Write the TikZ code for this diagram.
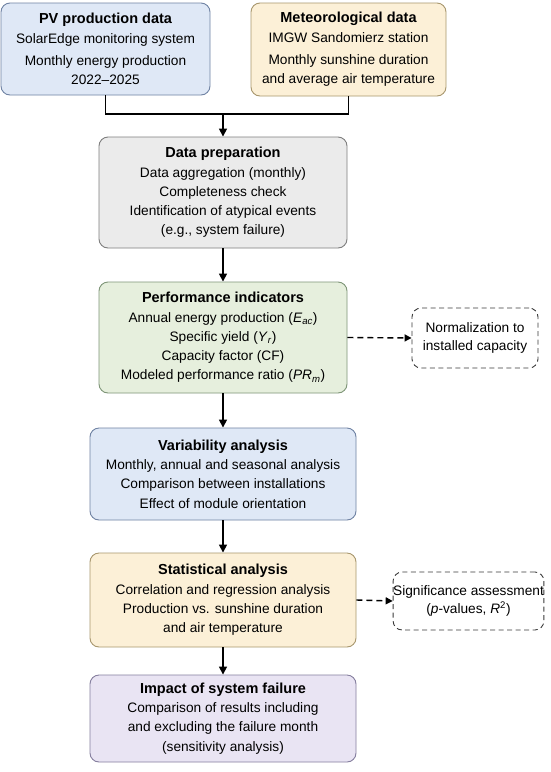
\documentclass[tikz,border=0pt]{standalone}
\usepackage{fontspec}
\setmainfont{Liberation Sans}
\usetikzlibrary{arrows.meta}
\definecolor{bluefill}{HTML}{DFE8F6}
\definecolor{blueline}{HTML}{6F82A3}
\definecolor{yelfill}{HTML}{FCF0D7}
\definecolor{yelline}{HTML}{A8976E}
\definecolor{grayfill}{HTML}{EBEBEB}
\definecolor{grayline}{HTML}{7E7E7E}
\definecolor{grnfill}{HTML}{E6EFDD}
\definecolor{grnline}{HTML}{7E9577}
\definecolor{purfill}{HTML}{E9E4F3}
\definecolor{purline}{HTML}{857E9E}
\definecolor{noteline}{HTML}{3A3A3A}
\newcommand{\boxtitle}[1]{{\fontsize{14.5}{18}\selectfont\bfseries #1}}
\begin{document}
\begin{tikzpicture}[x=1pt,y=-1pt,
  stagebox/.style={draw, line width=0.9pt, rounded corners=9pt, inner sep=0pt, align=center,
    font=\fontsize{13.7}{19.3}\selectfont},
  notebox/.style={draw=noteline, dash pattern=on 5pt off 3.5pt, line width=0.9pt, rounded corners=9pt, inner sep=0pt, align=center,
    font=\fontsize{13.7}{17.5}\selectfont},
  arr/.style={line width=1.6pt, -{Triangle[length=8pt,width=8pt]}},
  darr/.style={line width=1.4pt, dash pattern=on 6pt off 4pt, -{Triangle[length=7pt,width=7pt]}},
  link/.style={line width=1.6pt}]
\useasboundingbox (0,0) rectangle (550,772);
\fill[white] (0,0) rectangle (550,772);

\node[stagebox, fill=bluefill, draw=blueline, minimum width=209pt, minimum height=92pt] (pv) at (105.5,49)
  {\boxtitle{PV production data}\\ SolarEdge monitoring system\\[3pt] Monthly energy production\\ 2022–2025};
\node[stagebox, fill=yelfill, draw=yelline, minimum width=195pt, minimum height=93pt] (met) at (348.5,49.5)
  {\boxtitle{Meteorological data}\\ IMGW Sandomierz station\\[3pt] Monthly sunshine duration\\ and average air temperature};

\node[stagebox, fill=grayfill, draw=grayline, minimum width=248pt, minimum height=111pt] (prep) at (223,192.5)
  {\boxtitle{Data preparation}\\ Data aggregation (monthly)\\ Completeness check\\ Identification of atypical events\\ (e.g., system failure)};

\node[stagebox, fill=grnfill, draw=grnline, minimum width=248pt, minimum height=111pt] (perf) at (223,337.5)
  {\boxtitle{Performance indicators}\\ Annual energy production (\textit{E}\textsubscript{\textit{ac}})\\ Specific yield (\textit{Y}\textsubscript{\textit{r}})\\ Capacity factor (CF)\\ Modeled performance ratio (\textit{PR}\textsubscript{\textit{m}})};

\node[notebox, minimum width=126pt, minimum height=60pt] (norm) at (475,338)
  {Normalization to\\ installed capacity};

\node[stagebox, fill=bluefill, draw=blueline, minimum width=266pt, minimum height=92pt] (var) at (223,474)
  {\boxtitle{Variability analysis}\\ Monthly, annual and seasonal analysis\\ Comparison between installations\\ Effect of module orientation};

\node[stagebox, fill=yelfill, draw=yelline, minimum width=266pt, minimum height=94pt] (stat) at (223,600)
  {\boxtitle{Statistical analysis}\\ Correlation and regression analysis\\ Production vs. sunshine duration\\ and air temperature};

\node[notebox, minimum width=149pt, minimum height=58pt] (sig) at (468.5,601)
  {Significance assessment\\ (\textit{p}-values, \textit{R}\textsuperscript{2})};

\node[stagebox, fill=purfill, draw=purline, minimum width=266pt, minimum height=87pt] (imp) at (223,718.5)
  {\boxtitle{Impact of system failure}\\ Comparison of results including\\ and excluding the failure month\\ (sensitivity analysis)};

\coordinate (join) at (223,114);
\draw[link] (pv.south) |- (join);
\draw[link] (met.south) |- (join);
\draw[arr] (join) -- (prep.north);
\draw[arr] (prep) -- (perf);
\draw[arr] (perf) -- (var);
\draw[arr] (var) -- (stat);
\draw[arr] (stat) -- (imp);
\draw[darr] (perf.east) -- (norm.west);
\draw[darr] (stat.east) -- (sig.west);
\end{tikzpicture}
\end{document}
